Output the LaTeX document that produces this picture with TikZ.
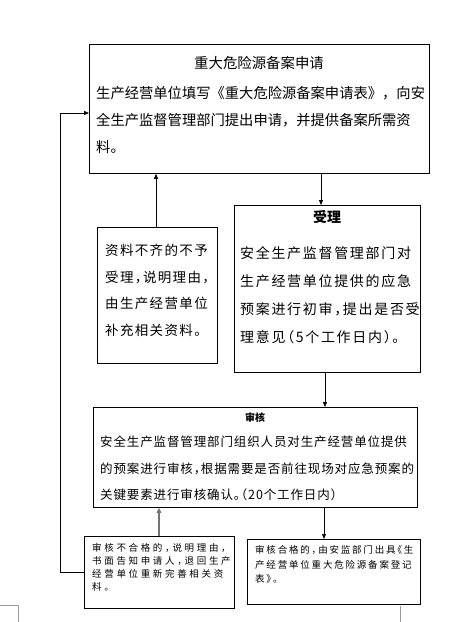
\documentclass[tikz,border=0pt]{standalone}
\usepackage{fontspec}
\setmainfont{Noto Sans CJK SC}
\newfontfamily\cjk{Noto Sans CJK SC}
\newfontfamily\cjkh{Noto Sans CJK SC}[Script=CJK, RawFeature=+halt]
\usetikzlibrary{arrows.meta}
\tikzset{
  x=1pt, y=-1pt,
  box/.style={draw, line width=0.8pt, anchor=north west, inner sep=0pt},
  txt/.style={anchor=north west, inner sep=0pt, align=left},
  ttl/.style={anchor=center, inner sep=0pt},
  arr/.style={line width=0.8pt, -{Triangle[length=5pt,width=4pt]}},
  grayarr/.style={line width=1.8pt, draw=black!55, -{Triangle[length=5pt,width=4.5pt]}},
  cornermark/.style={line width=0.6pt, draw=black!40}
}
\begin{document}
\begin{tikzpicture}
\useasboundingbox (0,0) rectangle (463,622);
% boxes
\node[box, minimum width=340pt, minimum height=129pt] (apply) at (89,44) {};
\node[box, minimum width=120pt, minimum height=136pt] (reject) at (97,227) {};
\node[box, minimum width=186pt, minimum height=167pt] (accept) at (234,205) {};
\node[box, minimum width=324pt, minimum height=100pt] (review) at (93,407) {};
\node[box, minimum width=150pt, minimum height=72pt] (fail) at (84,536) {};
\node[box, minimum width=173pt, minimum height=65pt] (pass) at (247,539) {};
% texts
\node[ttl, font={\cjk\fontsize{14.4}{17}\selectfont}] (applyT) at (259,63) {重大危险源备案申请};
\node[txt, font={\cjk\fontsize{14.3}{27}\selectfont}] (applyB) at (96,86.3)
  {生产经营单位填写《重大危险源备案申请表》，向安\\全生产监督管理部门提出申请，并提供备案所需资\\料。};
\node[txt, font={\cjkh\fontsize{13.5}{26.7}\selectfont\addfontfeatures{LetterSpace=10}}] (rejectB) at (105,243.7)
  {资料不齐的不予\\受理，说明理由，\\由生产经营单位\\补充相关资料。};
\node[ttl, font={\cjk\bfseries\fontsize{14}{16}\selectfont}] (acceptT) at (327,217) {受理};
\node[txt, font={\cjkh\fontsize{14}{28}\selectfont\addfontfeatures{LetterSpace=12}}] (acceptB) at (240,246.4)
  {安全生产监督管理部门对\\生产经营单位提供的应急\\预案进行初审，提出是否受\\理意见（5个工作日内）。};
\node[ttl, font={\cjk\bfseries\fontsize{10}{12}\selectfont}] (reviewT) at (255,418) {审核};
\node[txt, font={\cjkh\fontsize{12.5}{26.5}\selectfont\addfontfeatures{LetterSpace=7}}] (reviewB) at (100,436.1)
  {安全生产监督管理部门组织人员对生产经营单位提供\\的预案进行审核，根据需要是否前往现场对应急预案的\\关键要素进行审核确认。（20个工作日内）};
\node[txt, font={\cjkh\fontsize{9.5}{13}\selectfont\addfontfeatures{LetterSpace=28}}] (failB) at (92,543.5)
  {审核不合格的，说明理由，\\书面告知申请人，退回生产\\经营单位重新完善相关资\\料。};
\node[txt, font={\cjkh\fontsize{9.5}{14.5}\selectfont\addfontfeatures{LetterSpace=19}}] (passB) at (255,545.5)
  {审核合格的，由安监部门出具《生\\产经营单位重大危险源备案登记\\表》。};
% connector coordinates
\coordinate (xa) at (321,0);
\coordinate (xb) at (156,0);
\coordinate (xc) at (325,0);
\coordinate (xd) at (159,0);
\coordinate (xe) at (324,0);
\coordinate (loopx) at (60,0);
\coordinate (loopy) at (0,113);
% connectors
\draw[arr] (apply.south -| xa) -- (accept.north -| xa);
\draw[arr] (reject.north -| xb) -- (apply.south -| xb);
\draw[arr] (accept.south -| xc) -- (review.north -| xc);
\draw[grayarr] (fail.north -| xd) -- (review.south -| xd);
\draw[arr] (review.south -| xe) -- (pass.north -| xe);
\draw[arr] (fail.west) -- (fail.west -| loopx) -- (loopx |- loopy) -- (apply.west |- loopy);
% page corner marks
\coordinate (m1) at (0,605);
\coordinate (m2) at (18,605);
\coordinate (m3) at (18,622);
\coordinate (m4) at (400,606);
\coordinate (m5) at (400,622);
\draw[cornermark] (m1) -- (m2) -- (m3);
\draw[cornermark] (m4) -- (m5);
\end{tikzpicture}
\end{document}
